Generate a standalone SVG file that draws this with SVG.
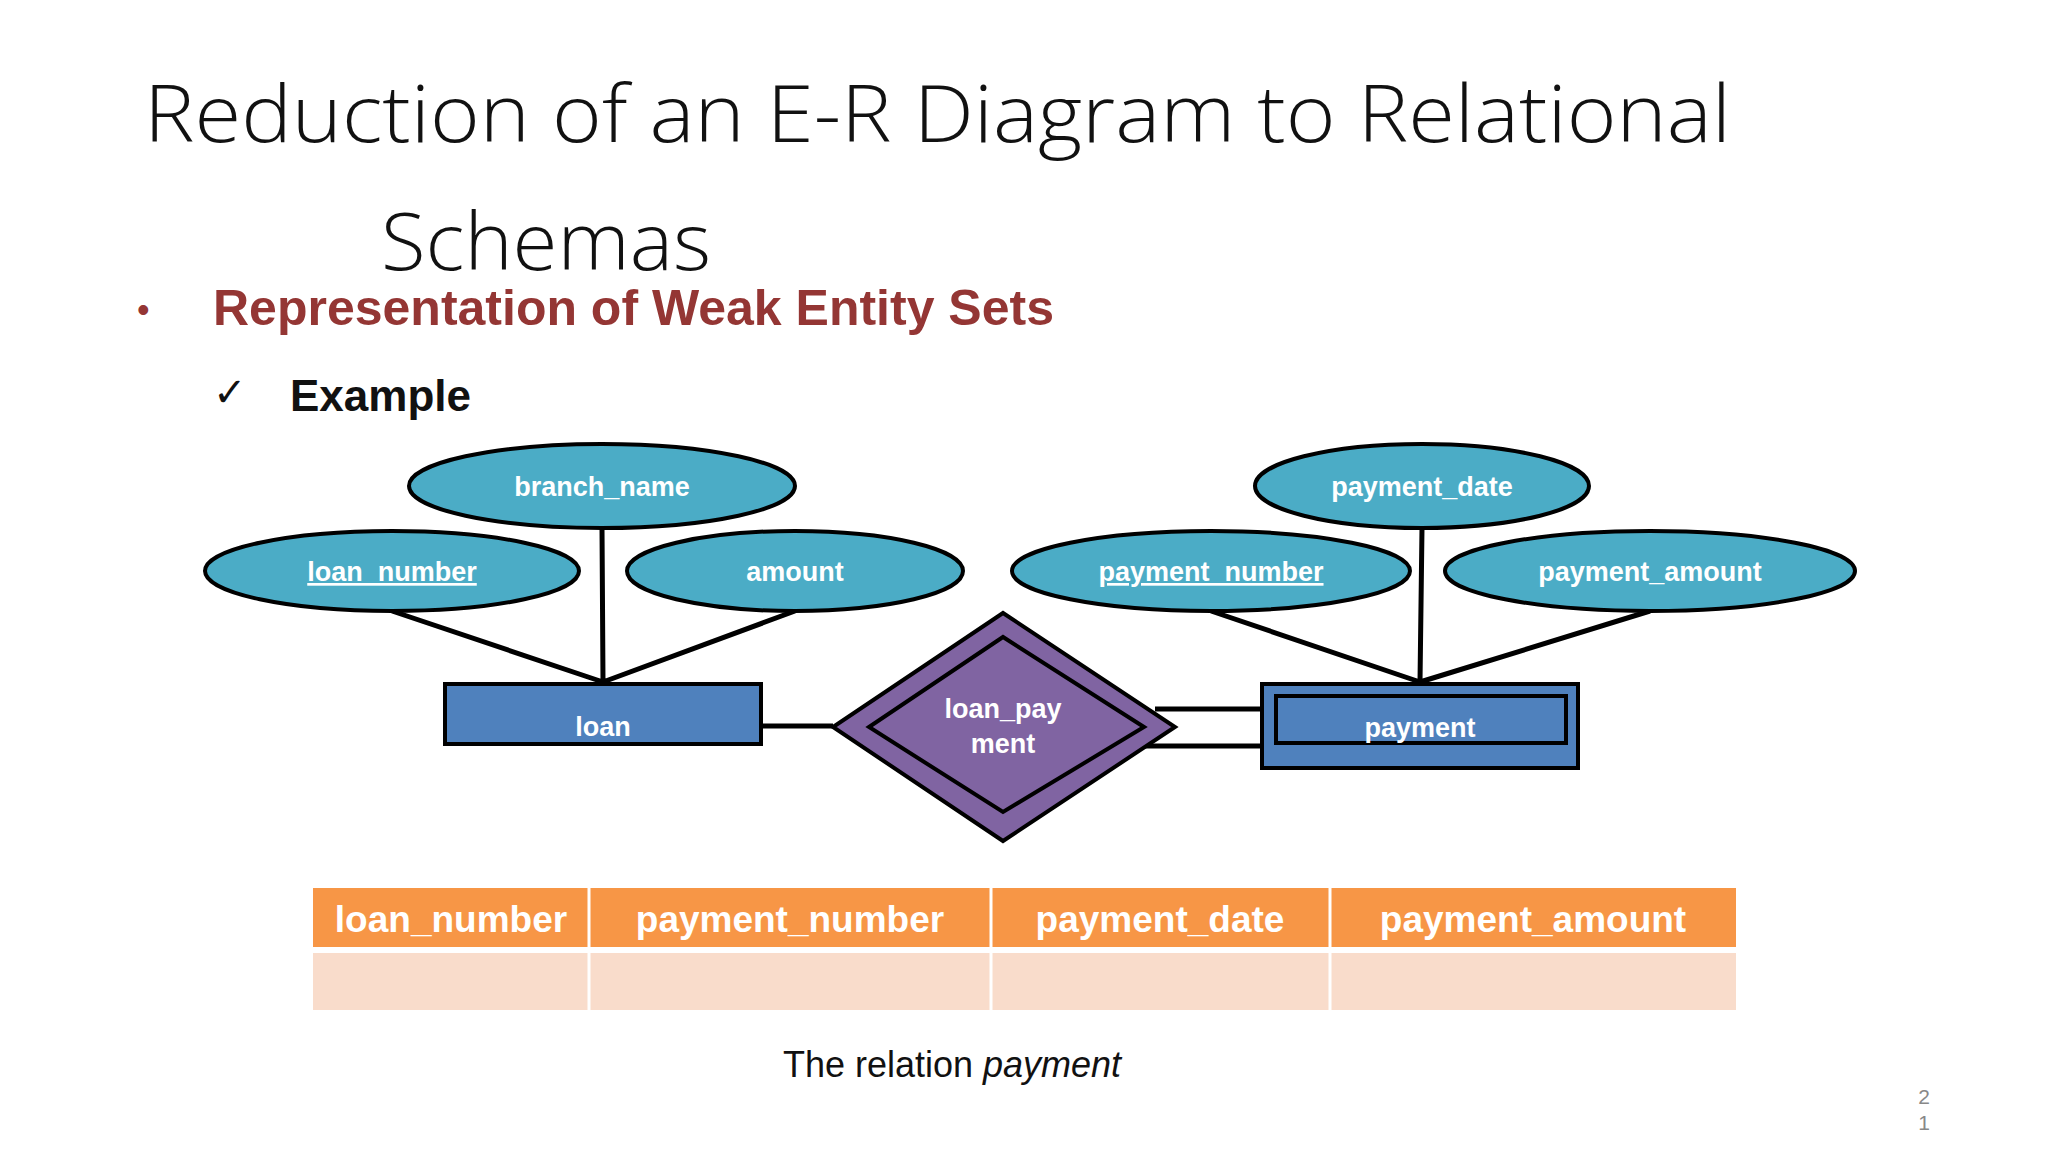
<svg xmlns="http://www.w3.org/2000/svg" width="2048" height="1152" viewBox="0 0 2048 1152">
<style>
.el{fill:#4bacc6;stroke:#000;stroke-width:4}
.et{font-family:"Liberation Sans",Arial,sans-serif;font-weight:bold;font-size:27px;fill:#fff;text-anchor:middle}
.ln{stroke:#000;stroke-width:5;fill:none}
.th{font-family:"Liberation Sans",Arial,sans-serif;font-weight:bold;font-size:37px;fill:#fff;text-anchor:middle}
</style>
<rect width="2048" height="1152" fill="#fff"/>
<text x="144" y="142" font-family="Open Sans,sans-serif" font-weight="300" font-size="80" fill="#111" textLength="1587" lengthAdjust="spacingAndGlyphs">Reduction of an E-R Diagram to  Relational</text>
<text x="381" y="270" font-family="Open Sans,sans-serif" font-weight="300" font-size="80" fill="#111" textLength="330" lengthAdjust="spacingAndGlyphs">Schemas</text>
<text x="137" y="322" font-family="Liberation Sans,sans-serif" font-size="36" fill="#943634">•</text>
<text x="213" y="325" font-family="Liberation Sans,sans-serif" font-weight="bold" font-size="50" fill="#943634">Representation of Weak Entity Sets</text>
<text x="213" y="406" font-family="DejaVu Sans,sans-serif" font-size="40" fill="#111">✓</text>
<text x="290" y="411" font-family="Liberation Sans,sans-serif" font-weight="bold" font-size="44" fill="#111">Example</text>
<g id="connectors">
<path class="ln" d="M392 611L603 682M602 528L603 682M795 611L603 682M1211 611L1420 682M1422 528L1420 682M1650 611L1420 682M761 726H833M1155 709H1262M1144 746H1262"/>
</g>
<g id="branch_name"><ellipse class="el" cx="602" cy="486" rx="193" ry="42"/><text class="et" x="602" y="496">branch_name</text></g>
<g id="loan_number"><ellipse class="el" cx="392" cy="571" rx="187" ry="40"/><text class="et" x="392" y="581" text-decoration="underline">loan_number</text></g>
<g id="amount"><ellipse class="el" cx="795" cy="571" rx="168" ry="40"/><text class="et" x="795" y="581">amount</text></g>
<g id="payment_date"><ellipse class="el" cx="1422" cy="486" rx="167" ry="42"/><text class="et" x="1422" y="496">payment_date</text></g>
<g id="payment_number"><ellipse class="el" cx="1211" cy="571" rx="199" ry="40"/><text class="et" x="1211" y="581" text-decoration="underline">payment_number</text></g>
<g id="payment_amount"><ellipse class="el" cx="1650" cy="571" rx="205" ry="40"/><text class="et" x="1650" y="581">payment_amount</text></g>
<g id="loan"><rect x="445" y="684" width="316" height="60" fill="#4f81bd" stroke="#000" stroke-width="4"/><text class="et" x="603" y="736">loan</text></g>
<g id="payment"><rect x="1262" y="684" width="316" height="84" fill="#4f81bd" stroke="#000" stroke-width="4"/><rect x="1276" y="696" width="290" height="47" fill="#4f81bd" stroke="#000" stroke-width="4"/><text class="et" x="1420" y="737">payment</text></g>
<g id="loan_payment"><polygon points="1003,613 833,727 1003,841 1175,727" fill="#8064a2" stroke="#000" stroke-width="4"/><polygon points="1003,637 869,727 1003,812 1144,727" fill="#8064a2" stroke="#000" stroke-width="4"/><text class="et" x="1003" y="718">loan_pay</text><text class="et" x="1003" y="753">ment</text></g>
<g id="table">
<rect x="313" y="888" width="1423" height="59" fill="#f79646"/>
<rect x="313" y="953" width="1423" height="57" fill="#f9dccb"/>
<path d="M313 950H1736M589 888V1010M991 888V1010M1330 888V1010" stroke="#fff" stroke-width="3"/>
<text class="th" x="451" y="932">loan_number</text>
<text class="th" x="790" y="932">payment_number</text>
<text class="th" x="1160" y="932">payment_date</text>
<text class="th" x="1533" y="932">payment_amount</text>
</g>
<text x="952" y="1077" font-family="Liberation Sans,sans-serif" font-size="36" fill="#111" text-anchor="middle">The relation <tspan font-style="italic">payment</tspan></text>
<text x="1924" y="1104" font-family="Liberation Sans,sans-serif" font-size="21" fill="#888" text-anchor="middle">2</text>
<text x="1924" y="1130" font-family="Liberation Sans,sans-serif" font-size="21" fill="#888" text-anchor="middle">1</text>
</svg>
